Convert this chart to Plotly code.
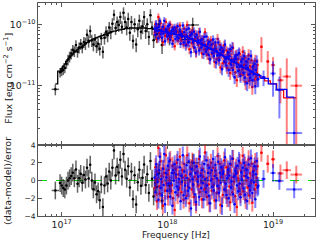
import numpy as np
import plotly.graph_objects as go
from plotly.subplots import make_subplots

# ---------------- data (log10 frequency [Hz], log10 flux [erg cm^-2 s^-1]) ----------------
# black data set
blk_nu = [16.94, 16.985, 17.00, 17.015, 17.03, 17.045, 17.06, 17.075, 17.09, 17.105,
          17.12, 17.135, 17.15, 17.165, 17.18, 17.195, 17.21, 17.225, 17.24, 17.255,
          17.27, 17.285, 17.30, 17.315, 17.33, 17.345, 17.36, 17.375, 17.39, 17.405,
          17.42, 17.435, 17.45, 17.465, 17.48, 17.495, 17.51, 17.525, 17.54, 17.555,
          17.57, 17.585, 17.60, 17.615, 17.63, 17.645, 17.66, 17.675, 17.69, 17.705,
          17.72, 17.735, 17.75, 17.765, 17.78, 17.795, 17.81, 17.825, 17.84, 17.855,
          17.87, 17.885, 17.90, 17.92, 17.95, 18.02, 18.24]
blk_xw = [0.035, 0.012, 0.008, 0.0075, 0.0075, 0.0075, 0.0075, 0.0075, 0.0075, 0.0075,
          0.0075, 0.0075, 0.0075, 0.0075, 0.0075, 0.0075, 0.0075, 0.0075, 0.0075, 0.0075,
          0.0075, 0.0075, 0.0075, 0.0075, 0.0075, 0.0075, 0.0075, 0.0075, 0.0075, 0.0075,
          0.0075, 0.0075, 0.0075, 0.0075, 0.0075, 0.0075, 0.0075, 0.0075, 0.0075, 0.0075,
          0.0075, 0.0075, 0.0075, 0.0075, 0.0075, 0.0075, 0.0075, 0.0075, 0.0075, 0.0075,
          0.0075, 0.0075, 0.0075, 0.0075, 0.0075, 0.0075, 0.0075, 0.0075, 0.0075, 0.0075,
          0.0075, 0.0075, 0.0075, 0.012, 0.015, 0.03, 0.06]
blk_flux = [-11.06, -10.78, -10.76, -10.74, -10.71, -10.64, -10.57, -10.52, -10.47, -10.41,
            -10.43, -10.33, -10.44, -10.37, -10.31, -10.37, -10.28, -10.30, -10.16, -10.26,
            -10.10, -10.25, -10.32, -10.24, -10.35, -10.31, -10.39, -10.22, -10.44, -10.21,
            -10.11, -10.17, -10.04, -10.12, -9.98, -9.83, -10.05, -9.95, -10.00, -9.87,
            -10.03, -9.80, -9.95, -10.04, -9.90, -10.13, -9.95, -10.26, -9.99, -10.32,
            -10.07, -9.93, -10.11, -10.02, -9.87, -10.10, -9.99, -10.20, -9.84, -10.04,
            -10.25, -10.10, -10.15, -9.99, -10.33, -10.17, -10.00]
blk_err = [0.08, 0.07, 0.07, 0.07, 0.07, 0.07, 0.08, 0.08, 0.08, 0.08,
           0.08, 0.08, 0.08, 0.08, 0.08, 0.08, 0.08, 0.09, 0.09, 0.09,
           0.09, 0.09, 0.09, 0.09, 0.09, 0.09, 0.09, 0.09, 0.09, 0.09,
           0.09, 0.09, 0.09, 0.09, 0.09, 0.08, 0.09, 0.09, 0.09, 0.09,
           0.09, 0.09, 0.09, 0.10, 0.10, 0.10, 0.10, 0.10, 0.10, 0.10,
           0.10, 0.10, 0.10, 0.10, 0.10, 0.10, 0.10, 0.10, 0.10, 0.10,
           0.10, 0.11, 0.11, 0.11, 0.11, 0.12, 0.12]
blk_model = [-10.97, -10.76, -10.72, -10.68, -10.64, -10.60, -10.57, -10.54, -10.51, -10.48,
             -10.45, -10.43, -10.41, -10.39, -10.37, -10.35, -10.33, -10.31, -10.29, -10.28,
             -10.26, -10.25, -10.23, -10.22, -10.21, -10.20, -10.19, -10.18, -10.17, -10.16,
             -10.15, -10.14, -10.13, -10.12, -10.11, -10.10, -10.10, -10.09, -10.08, -10.08,
             -10.07, -10.07, -10.06, -10.06, -10.06, -10.05, -10.05, -10.05, -10.05, -10.05,
             -10.05, -10.05, -10.05, -10.05, -10.05, -10.05, -10.06, -10.06, -10.06, -10.06,
             -10.07, -10.07, -10.07, -10.08, -10.08, -10.10, -10.24]

# dense band shared by the red and blue data sets
dense_nu = [17.880, 17.887, 17.894, 17.901, 17.908, 17.915, 17.922, 17.929, 17.936, 17.943,
            17.950, 17.957, 17.964, 17.971, 17.978, 17.985, 17.992, 17.999, 18.006, 18.013,
            18.020, 18.027, 18.034, 18.041, 18.048, 18.055, 18.062, 18.069, 18.076, 18.083,
            18.090, 18.097, 18.104, 18.111, 18.118, 18.125, 18.132, 18.139, 18.146, 18.153,
            18.160, 18.167, 18.174, 18.181, 18.188, 18.195, 18.202, 18.209, 18.216, 18.223,
            18.230, 18.237, 18.244, 18.251, 18.258, 18.265, 18.272, 18.279, 18.286, 18.293,
            18.300, 18.307, 18.314, 18.321, 18.328, 18.335, 18.342, 18.349, 18.356, 18.363,
            18.370, 18.377, 18.384, 18.391, 18.398, 18.405, 18.412, 18.419, 18.426, 18.433,
            18.440, 18.447, 18.454, 18.461, 18.468, 18.475, 18.482, 18.489, 18.496, 18.503,
            18.510, 18.517, 18.524, 18.531, 18.538, 18.545, 18.552, 18.559, 18.566, 18.573,
            18.580, 18.587, 18.594, 18.601, 18.608, 18.615, 18.622, 18.629, 18.636, 18.643,
            18.650, 18.657, 18.664, 18.671, 18.678, 18.685, 18.692, 18.699, 18.706, 18.713,
            18.720, 18.727, 18.734, 18.741, 18.748, 18.755, 18.762, 18.769, 18.776, 18.783,
            18.790, 18.797, 18.804, 18.811, 18.818, 18.825, 18.832, 18.839, 18.846, 18.853]
dense_model = [-10.08, -10.08, -10.09, -10.09, -10.09, -10.09, -10.10, -10.10, -10.10, -10.10,
               -10.11, -10.11, -10.11, -10.11, -10.11, -10.12, -10.12, -10.12, -10.12, -10.13,
               -10.13, -10.13, -10.13, -10.14, -10.14, -10.14, -10.14, -10.15, -10.15, -10.15,
               -10.16, -10.16, -10.16, -10.17, -10.17, -10.17, -10.18, -10.18, -10.18, -10.19,
               -10.19, -10.19, -10.20, -10.20, -10.20, -10.21, -10.21, -10.22, -10.22, -10.23,
               -10.23, -10.24, -10.25, -10.25, -10.26, -10.26, -10.27, -10.27, -10.28, -10.28,
               -10.29, -10.30, -10.30, -10.31, -10.32, -10.32, -10.33, -10.33, -10.34, -10.35,
               -10.35, -10.36, -10.37, -10.37, -10.38, -10.39, -10.39, -10.40, -10.41, -10.41,
               -10.42, -10.43, -10.43, -10.44, -10.45, -10.45, -10.46, -10.47, -10.48, -10.48,
               -10.49, -10.50, -10.50, -10.51, -10.52, -10.53, -10.53, -10.54, -10.55, -10.55,
               -10.56, -10.57, -10.57, -10.58, -10.59, -10.59, -10.60, -10.61, -10.62, -10.62,
               -10.63, -10.64, -10.64, -10.65, -10.66, -10.66, -10.67, -10.68, -10.69, -10.69,
               -10.70, -10.71, -10.71, -10.72, -10.72, -10.73, -10.74, -10.74, -10.75, -10.76,
               -10.76, -10.77, -10.77, -10.78, -10.79, -10.80, -10.80, -10.81, -10.82, -10.82]
dense_err = [0.06] * 40 + [0.07] * 40 + [0.08] * 20 + [0.09] * 20 + [0.10] * 20
dense_xw = [0.0035] * 140

blu_dense_flux = [
    -10.06, -10.16, -9.98, -10.05, -10.10, -10.22, -10.03, -9.94, -10.15, -10.09,
    -10.21, -10.03, -10.14, -9.93, -10.27, -10.07, -10.10, -10.19, -10.02, -10.15,
    -10.00, -10.24, -10.15, -10.09, -10.31, -10.07, -10.14, -10.04, -10.23, -10.11,
    -10.20, -10.02, -10.22, -10.16, -10.08, -10.31, -10.15, -10.19, -10.01, -10.29,
    -10.12, -10.23, -10.34, -10.08, -10.18, -10.29, -10.06, -10.28, -10.17, -10.45,
    -10.14, -10.23, -10.28, -10.11, -10.37, -10.20, -10.44, -10.16, -10.29, -10.25,
    -10.42, -10.11, -10.26, -10.37, -10.24, -10.34, -10.48, -10.20, -10.33, -10.44,
    -10.19, -10.40, -10.31, -10.49, -10.28, -10.57, -10.39, -10.32, -10.46, -10.24,
    -10.51, -10.39, -10.29, -10.62, -10.43, -10.50, -10.29, -10.58, -10.41, -10.50,
    -10.37, -10.73, -10.44, -10.43, -10.60, -10.32, -10.56, -10.67, -10.53, -10.45,
    -10.74, -10.52, -10.40, -10.65, -10.60, -10.37, -10.74, -10.57, -10.86, -10.52,
    -10.56, -10.69, -10.49, -10.76, -10.46, -10.69, -10.84, -10.60, -10.68, -10.56,
    -10.79, -10.51, -10.87, -10.67, -10.60, -10.96, -10.71, -10.56, -10.81, -10.87,
    -10.51, -10.77, -10.91, -10.68, -10.81, -10.64, -11.01, -10.74, -10.60, -10.90]
red_dense_flux = [
    -10.13, -9.99, -10.08, -10.23, -10.03, -9.87, -10.14, -10.19, -9.97, -10.07,
    -10.12, -10.28, -10.03, -10.06, -10.18, -9.95, -10.14, -10.08, -10.23, -10.06,
    -10.13, -9.99, -10.20, -10.17, -10.04, -10.26, -10.09, -10.35, -10.07, -10.13,
    -10.04, -10.26, -10.12, -10.22, -10.01, -10.18, -10.26, -10.11, -10.16, -10.32,
    -10.06, -10.21, -10.16, -10.32, -10.00, -10.26, -10.20, -10.40, -10.12, -10.17,
    -10.30, -10.09, -10.29, -10.38, -10.23, -10.15, -10.46, -10.26, -10.21, -10.32,
    -10.12, -10.39, -10.24, -10.32, -10.47, -10.23, -10.30, -10.40, -10.12, -10.41,
    -10.33, -10.49, -10.25, -10.40, -10.56, -10.33, -10.25, -10.48, -10.40, -10.31,
    -10.46, -10.61, -10.34, -10.39, -10.56, -10.23, -10.46, -10.54, -10.33, -10.70,
    -10.46, -10.40, -10.63, -10.45, -10.34, -10.55, -10.62, -10.42, -10.71, -10.49,
    -10.47, -10.63, -10.79, -10.42, -10.56, -10.71, -10.38, -10.62, -10.57, -10.78,
    -10.50, -10.91, -10.56, -10.63, -10.74, -10.48, -10.81, -10.58, -10.73, -10.44,
    -10.82, -10.66, -10.54, -10.94, -10.72, -10.60, -10.82, -10.50, -10.92, -10.68,
    -10.79, -10.58, -11.02, -10.72, -10.68, -10.90, -10.59, -10.86, -10.79, -10.66]

# sparse high-frequency bins
blu_tail_nu = [18.86, 18.91, 19.00, 19.06, 19.20]
blu_tail_xw = [0.01, 0.02, 0.025, 0.04, 0.075]
blu_tail_flux = [-10.89, -10.86, -10.80, -11.07, -11.78]
blu_tail_err = [0.10, 0.11, 0.20, 0.22, 0.59]
blu_tail_model = [-10.83, -10.88, -10.97, -11.06, -11.19]

red_tail_nu = [18.89, 18.95, 19.00, 19.07, 19.13, 19.22]
red_tail_xw = [0.012, 0.015, 0.02, 0.03, 0.04, 0.055]
red_tail_flux = [-10.36, -10.60, -10.66, -10.91, -10.85, -11.00]
red_tail_err = [0.16, 0.17, 0.13, 0.20, 0.30, 0.30]
red_tail_model = [-10.86, -10.92, -10.97, -11.07, -11.20, -11.20]

X_RANGE = [16.776, 19.397]
Y_RANGE = [-11.977, -9.638]
R_RANGE = [-4, 4]

for lst in (dense_model, dense_err, dense_xw, blu_dense_flux, red_dense_flux):
    assert len(lst) == len(dense_nu)
assert len(blk_nu) == len(blk_xw) == len(blk_flux) == len(blk_err) == len(blk_model)


def xerr(nu, w):
    nu = np.array(nu, float); w = np.array(w, float)
    c = 10 ** nu
    return c, (10 ** (nu + w) - c), (c - 10 ** (nu - w))


def yerr(logf, e):
    f = 10 ** np.array(logf, float)
    s = f * (10 ** np.array(e, float) - 1)
    lo = np.minimum(s, f * 0.999)
    return f, s, lo


fig = make_subplots(rows=2, cols=1, shared_xaxes=True, vertical_spacing=0,
                    row_heights=[2 / 3, 1 / 3])

sets = [
    (blk_nu, blk_xw, blk_flux, blk_err, blk_model,
     'black', 'rgba(0,0,0,0.62)', 1.5),
    (dense_nu + red_tail_nu, dense_xw + red_tail_xw, red_dense_flux + red_tail_flux,
     dense_err + red_tail_err, dense_model + red_tail_model,
     '#ff0000', 'rgba(255,0,0,0.5)', 2.0),
    (dense_nu + blu_tail_nu, dense_xw + blu_tail_xw, blu_dense_flux + blu_tail_flux,
     dense_err + blu_tail_err, dense_model + blu_tail_model,
     '#0000ff', 'rgba(0,0,255,0.5)', 2.0),
]

for nu, xw, fl, er, mo, mcol, ecol, eth in sets:
    x, xp, xm = xerr(nu, xw)
    y, yp, ym = yerr(fl, er)
    resid = (np.array(fl) - np.array(mo)) / np.array(er)   # (data-model)/error
    fig.add_trace(go.Scatter(
        x=x, y=y, mode='markers',
        marker=dict(color=mcol, size=2.5),
        error_x=dict(type='data', array=xp, arrayminus=xm, color=ecol, thickness=eth, width=0),
        error_y=dict(type='data', array=yp, arrayminus=ym, color=ecol, thickness=eth, width=0),
    ), row=1, col=1)
    fig.add_trace(go.Scatter(
        x=x, y=10 ** np.array(mo, float), mode='lines', line_shape='hvh',
        line=dict(color=mcol, width=1.3),
    ), row=1, col=1)
    fig.add_trace(go.Scatter(
        x=x, y=resid, mode='markers',
        marker=dict(color=mcol, size=2.5),
        error_x=dict(type='data', array=xp, arrayminus=xm, color=ecol, thickness=eth, width=0),
        error_y=dict(type='constant', value=1.0, color=ecol, thickness=eth, width=0),
    ), row=2, col=1)

fig.add_hline(y=0, row=2, col=1, line=dict(color='#00dd00', dash='dash', width=1.2), layer='below')

axcol = '#555555'
common = dict(showline=True, linecolor=axcol, linewidth=1, mirror='allticks',
              ticks='inside', ticklen=4, tickcolor=axcol, showgrid=False, zeroline=False,
              automargin=False)

fig.update_xaxes(type='log', range=X_RANGE, dtick=1, exponentformat='power',
                 minor=dict(ticks='inside', ticklen=2, tickcolor=axcol, dtick='D1', showgrid=False),
                 **common)
fig.update_xaxes(showticklabels=False, row=1, col=1)
fig.update_yaxes(type='log', range=Y_RANGE, dtick=1, exponentformat='power',
                 minor=dict(ticks='inside', ticklen=2, tickcolor=axcol, dtick='D1', showgrid=False),
                 row=1, col=1, **common)
fig.update_yaxes(range=R_RANGE, tickvals=[-4, -2, 0, 2, 4], row=2, col=1, **common)

fig.update_layout(
    width=320, height=240,
    margin=dict(l=38, r=5, t=3, b=24),
    plot_bgcolor='white', paper_bgcolor='white', showlegend=False,
    font=dict(family='DejaVu Sans', size=7.5, color='#222222'),
    annotations=[
        dict(text='Frequency [Hz]', xref='paper', yref='paper', x=0.498, y=-0.088,
             xanchor='center', yanchor='middle', showarrow=False, font=dict(size=9)),
        dict(text='Flux [erg cm<sup>−2</sup> s<sup>−1</sup>]', xref='paper', yref='paper',
             x=-0.108, y=0.645, textangle=-90, xanchor='center', yanchor='middle',
             showarrow=False, font=dict(size=9.5)),
        dict(text='(data-model)/error', xref='paper', yref='paper',
             x=-0.108, y=0.165, textangle=-90, xanchor='center', yanchor='middle',
             showarrow=False, font=dict(size=9.5)),
    ],
)

fig.write_html('out.html', config={'displayModeBar': False},
               post_script="document.body.style.margin='0';document.body.style.padding='0';")
